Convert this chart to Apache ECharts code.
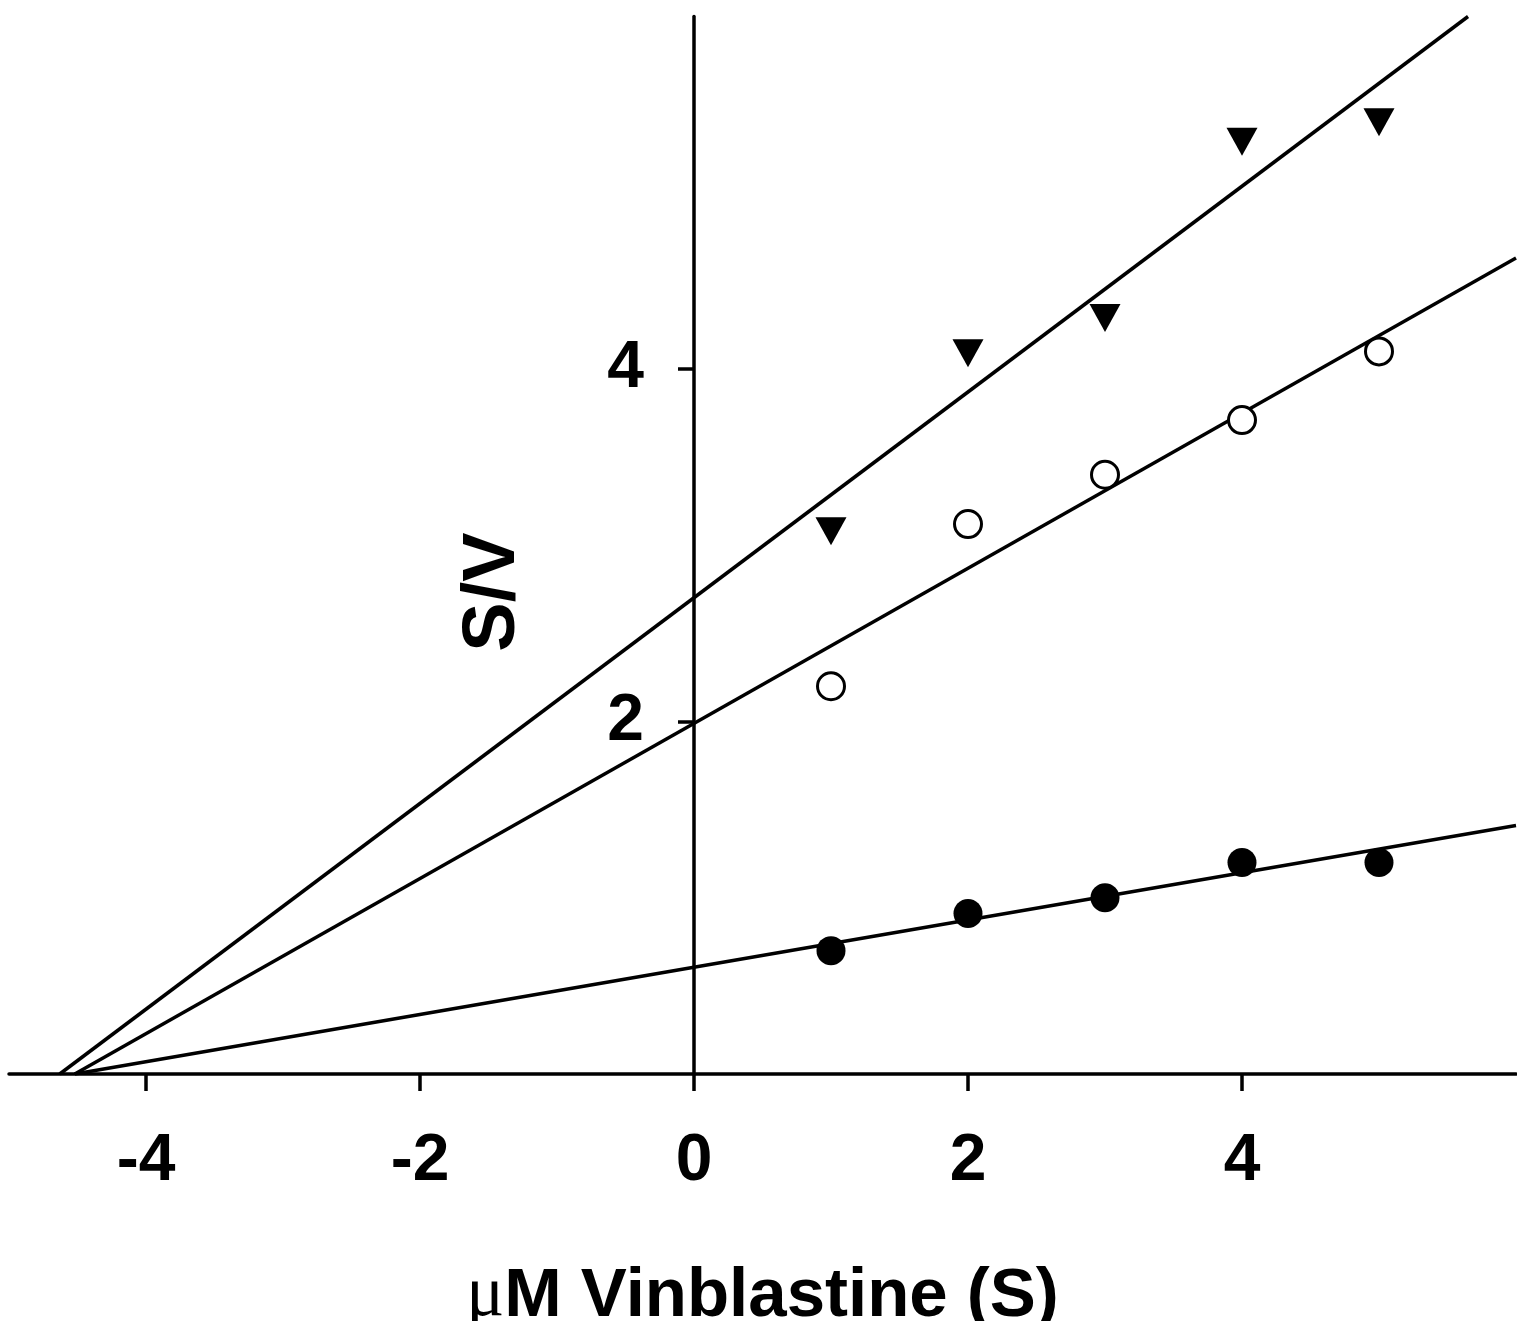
<!DOCTYPE html>
<html>
<head>
<meta charset="utf-8">
<script src="https://cdn.jsdelivr.net/npm/echarts@6/dist/echarts.min.js"></script>
<style>
html,body{margin:0;padding:0;background:#fff;}
#chart{width:1517px;height:1321px;}
</style>
</head>
<body>
<div id="chart"></div>
<script>
// Data
const xValues = [1, 2, 3, 4, 5];
const triangleValues = [3.08, 4.09, 4.29, 5.29, 5.40];
const openCircleValues = [2.20, 3.12, 3.40, 3.71, 4.10];
const filledCircleValues = [0.70, 0.91, 1.00, 1.20, 1.20];
// Fitted line end points
const triangleLine = [[-4.63, 0], [5.65, 6]];
const openCircleLine = [[-4.52, 0], [6, 4.63]];
const filledCircleLine = [[-4.52, 0], [6, 1.41]];
// Tick labels
const xTicks = [-4, -2, 0, 2, 4];
const yTicks = [2, 4];

const pts = (vals) => xValues.map((x, i) => [x, vals[i]]);

const chart = echarts.init(document.getElementById('chart'), null, {renderer: 'canvas'});
const lineStyle = {color: '#000', width: 3.5};
const option = {
  backgroundColor: '#fff',
  animation: false,
  grid: {left: 9, right: 1, top: 16.5, bottom: 247, containLabel: false, outerBoundsMode: 'none'},
  xAxis: {
    type: 'value', min: -5, max: 6,
    splitLine: {show: false},
    axisLine: {onZero: false, lineStyle: {color: '#000', width: 3.5}},
    axisTick: {show: true, length: 17, lineStyle: {color: '#000', width: 3.5}, customValues: xTicks},
    axisLabel: {customValues: xTicks, margin: 55, color: '#000', fontSize: 66, fontWeight: 'bold', fontFamily: 'Liberation Sans'},
    name: '{mu|\u03bc}M Vinblastine (S)',
    nameLocation: 'middle', nameGap: 187,
    nameTextStyle: {
      color: '#000', fontSize: 69, fontWeight: 'bold', fontFamily: 'Liberation Sans',
      rich: {mu: {fontFamily: 'Liberation Serif', fontWeight: 'normal', fontSize: 71, color: '#000'}}
    }
  },
  yAxis: {
    type: 'value', min: 0, max: 6,
    position: 'left', offset: -685,
    splitLine: {show: false},
    axisLine: {onZero: false, lineStyle: {color: '#000', width: 3.5}},
    axisTick: {show: true, length: 16, lineStyle: {color: '#000', width: 3.5}, customValues: yTicks},
    axisLabel: {customValues: yTicks, margin: 50, color: '#000', fontSize: 66, fontWeight: 'bold', fontFamily: 'Liberation Sans'}
  },
  graphic: [{
    type: 'text', x: 494, y: 592, rotation: Math.PI / 2,
    style: {text: 'S/V', fill: '#000', font: 'bold 74px "Liberation Sans"', align: 'center', verticalAlign: 'middle'}
  }],
  series: [
    {type: 'line', data: triangleLine, symbol: 'none', lineStyle: lineStyle, z: 2},
    {type: 'line', data: openCircleLine, symbol: 'none', lineStyle: lineStyle, z: 2},
    {type: 'line', data: filledCircleLine, symbol: 'none', lineStyle: lineStyle, z: 2},
    {type: 'scatter', data: pts(triangleValues), symbol: 'triangle', symbolRotate: 180, symbolSize: [31, 28],
     itemStyle: {color: '#000', opacity: 1}, z: 3},
    {type: 'scatter', data: pts(openCircleValues), symbol: 'circle', symbolSize: 27,
     itemStyle: {color: '#fff', borderColor: '#000', borderWidth: 3, opacity: 1}, z: 3},
    {type: 'scatter', data: pts(filledCircleValues), symbol: 'circle', symbolSize: 29,
     itemStyle: {color: '#000', opacity: 1}, z: 3}
  ]
};
chart.setOption(option);
</script>
</body>
</html>
